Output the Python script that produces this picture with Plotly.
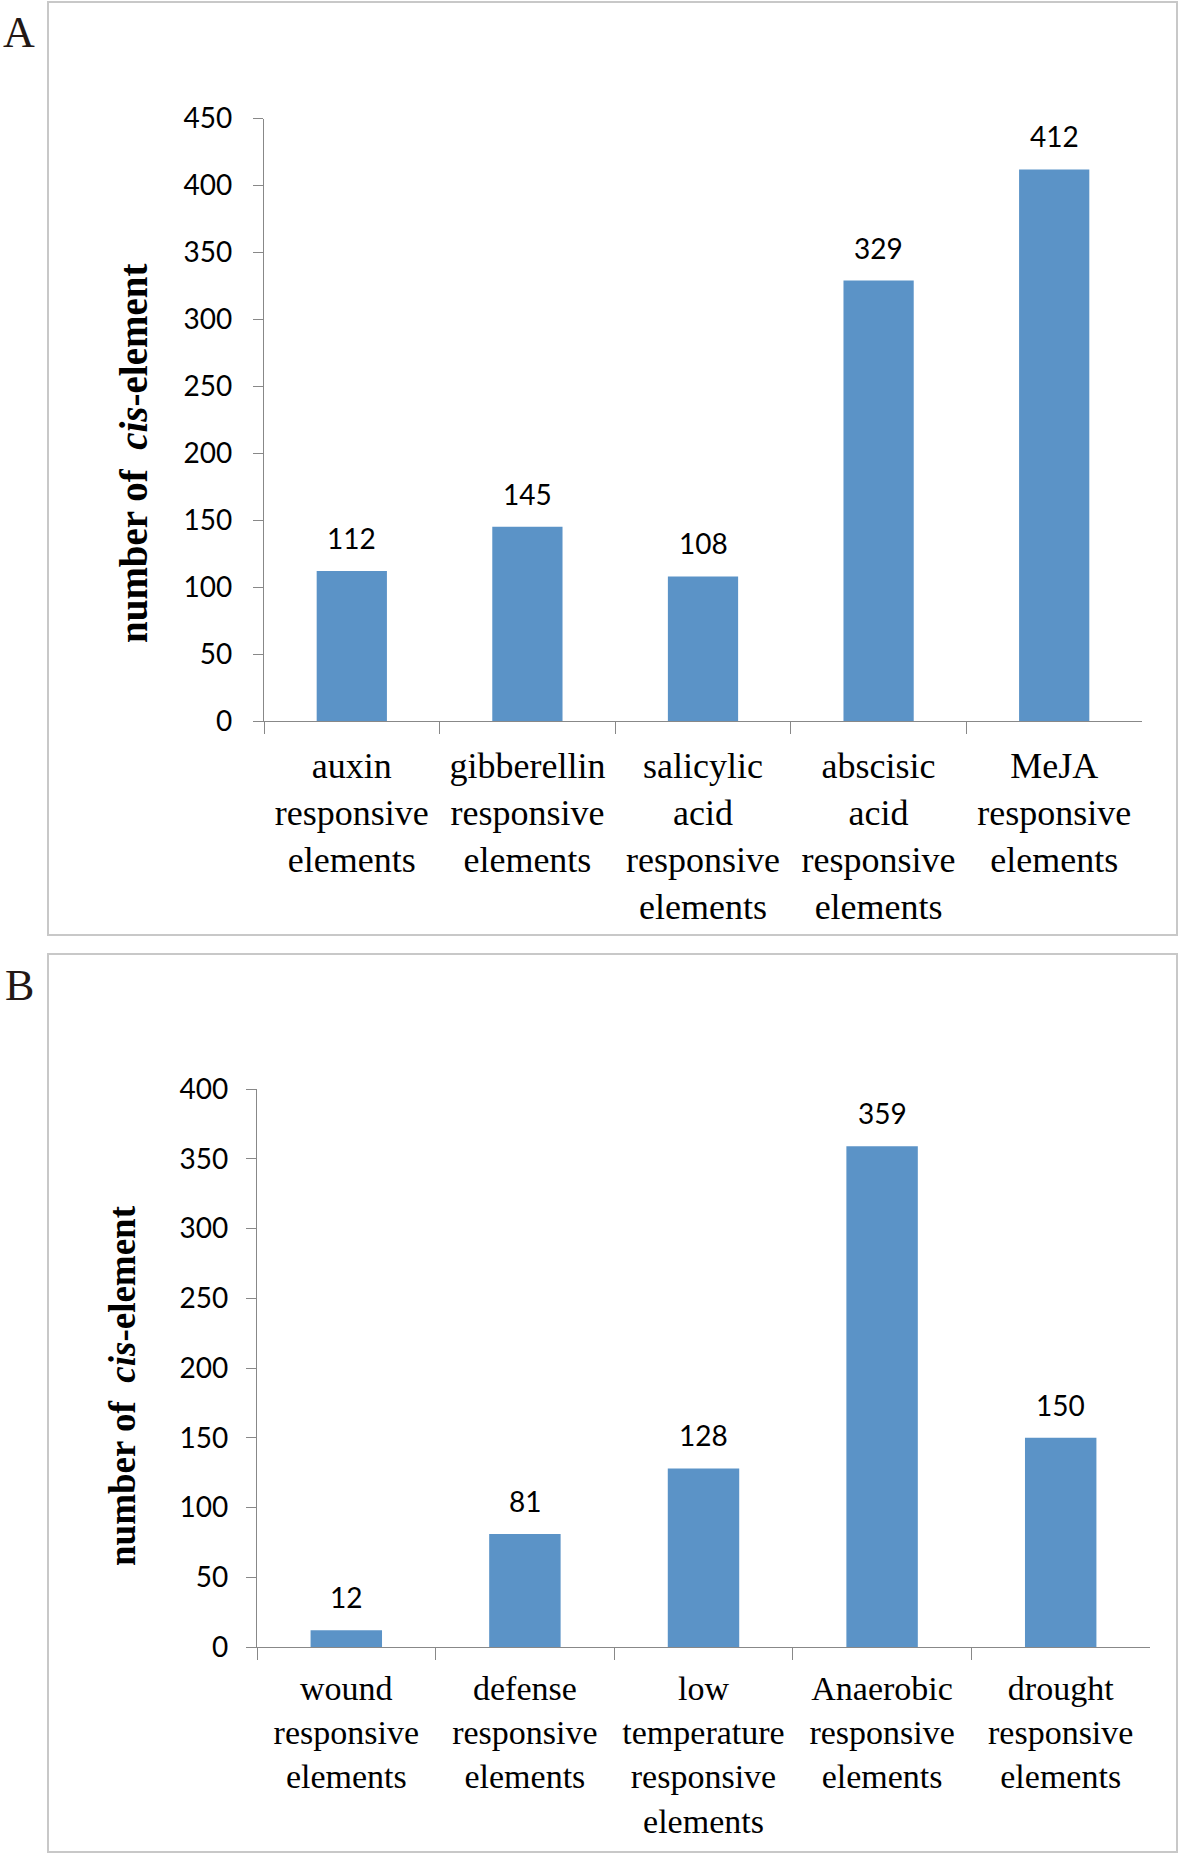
import plotly.graph_objects as go

# ---------------- data ----------------
categories_a = [
    "auxin<br>responsive<br>elements",
    "gibberellin<br>responsive<br>elements",
    "salicylic<br>acid<br>responsive<br>elements",
    "abscisic<br>acid<br>responsive<br>elements",
    "MeJA<br>responsive<br>elements",
]
values_a = [112, 145, 108, 329, 412]

categories_b = [
    "wound<br>responsive<br>elements",
    "defense<br>responsive<br>elements",
    "low<br>temperature<br>responsive<br>elements",
    "Anaerobic<br>responsive<br>elements",
    "drought<br>responsive<br>elements",
]
values_b = [12, 81, 128, 359, 150]

yticks_a = [0, 50, 100, 150, 200, 250, 300, 350, 400, 450]
yticks_b = [0, 50, 100, 150, 200, 250, 300, 350, 400]

y_title = "<b>number of\u00a0\u00a0<i>cis</i>-element</b>"
panel_labels = ["A", "B"]

# ---------------- style ----------------
W, H = 1180, 1855
BAR = "#5B93C7"
AXIS = "#888888"
SERIF = "Liberation Serif, Times New Roman, serif"
SANS = "Lato, Open Sans, sans-serif"

def px(x):
    return x / W

def py(y):
    return 1 - y / H

fig = go.Figure()

fig.add_trace(go.Bar(x=categories_a, y=values_a, marker=dict(color=BAR, line=dict(width=0)),
                     width=0.4, xaxis="x", yaxis="y", hoverinfo="skip"))
fig.add_trace(go.Bar(x=categories_b, y=values_b, marker=dict(color=BAR, line=dict(width=0)),
                     width=0.4, xaxis="x2", yaxis="y2", hoverinfo="skip"))

common_x = dict(type="category", showline=True, linecolor=AXIS, linewidth=1.3, automargin=False,
                ticks="outside", tickson="boundaries", ticklen=12, tickcolor=AXIS, tickwidth=1.3,
                showgrid=False, zeroline=False, fixedrange=True, tickangle=0)
common_y = dict(showline=True, linecolor=AXIS, linewidth=1.3, ticks="outside", ticklen=10,
                tickcolor=AXIS, tickwidth=1.3, showgrid=False, zeroline=False, automargin=False,
                tickfont=dict(family=SANS, size=28, color="black"), fixedrange=True)

fig.update_layout(
    width=W, height=H, autosize=False,
    margin=dict(l=0, r=0, t=0, b=0, pad=0, autoexpand=False),
    paper_bgcolor="white", plot_bgcolor="white",
    showlegend=False,
    xaxis=dict(domain=[px(264), px(1142)], anchor="y",
               tickfont=dict(family=SERIF, size=36, color="black"), ticklabelstandoff=13, **common_x),
    yaxis=dict(domain=[py(721), py(118.5)], anchor="x", range=[0, 450],
               tickvals=yticks_a, ticklabelstandoff=15, **common_y),
    xaxis2=dict(domain=[px(257), px(1150)], anchor="y2",
                tickfont=dict(family=SERIF, size=34, color="black"), ticklabelstandoff=11, **common_x),
    yaxis2=dict(domain=[py(1647), py(1089)], anchor="x2", range=[0, 400],
                tickvals=yticks_b, ticklabelstandoff=12, **common_y),
)

annotations = []
# value labels above bars
for cats, vals, xr, yr in [(categories_a, values_a, "x", "y"), (categories_b, values_b, "x2", "y2")]:
    for c, v in zip(cats, vals):
        annotations.append(dict(x=c, y=v, xref=xr, yref=yr, text=str(v), showarrow=False,
                                yanchor="bottom", yshift=14,
                                font=dict(family=SANS, size=28, color="black")))
# y-axis titles
annotations.append(dict(x=px(133), y=py(454), xref="paper", yref="paper", text=y_title,
                        textangle=-90, showarrow=False, xanchor="center", yanchor="middle",
                        font=dict(family=SERIF, size=39, color="black")))
annotations.append(dict(x=px(122), y=py(1385), xref="paper", yref="paper", text=y_title,
                        textangle=-90, showarrow=False, xanchor="center", yanchor="middle",
                        font=dict(family=SERIF, size=37, color="black")))
# panel letters
annotations.append(dict(x=px(19), y=py(32), xref="paper", yref="paper", text=panel_labels[0],
                        showarrow=False, xanchor="center", yanchor="middle",
                        font=dict(family=SERIF, size=44, color="#231815")))
annotations.append(dict(x=px(19), y=py(986), xref="paper", yref="paper", text=panel_labels[1],
                        showarrow=False, xanchor="center", yanchor="middle",
                        font=dict(family=SERIF, size=44, color="#231815")))
fig.update_layout(annotations=annotations)

# panel frames
fig.update_layout(shapes=[
    dict(type="rect", xref="paper", yref="paper", x0=px(48), x1=px(1177), y0=py(935), y1=py(2),
         line=dict(color="#C8C8C8", width=2), fillcolor="rgba(0,0,0,0)", layer="below"),
    dict(type="rect", xref="paper", yref="paper", x0=px(48), x1=px(1177), y0=py(1852), y1=py(954),
         line=dict(color="#C8C8C8", width=2), fillcolor="rgba(0,0,0,0)", layer="below"),
])

fig.write_html(
    "out.html",
    config={"displayModeBar": False},
    post_script=(
        "document.documentElement.style.margin='0px';"
        "document.body.style.margin='0px';"
        "document.body.style.overflow='hidden';"
    ),
)
